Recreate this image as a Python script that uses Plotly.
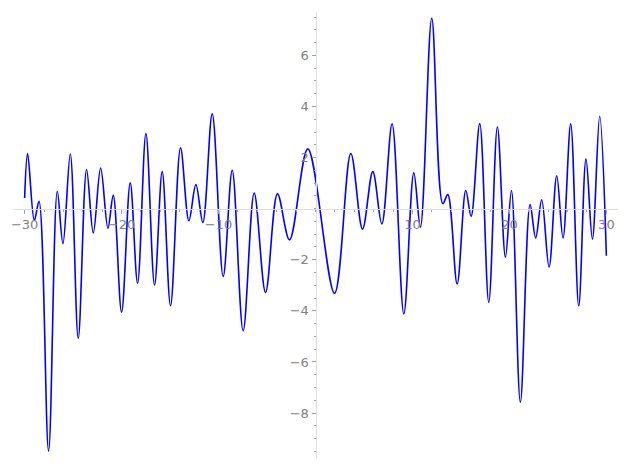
import plotly.graph_objects as go

# Curve points (local extrema and end points)
x_pts = [-30.0, -29.69, -29.0, -28.52, -27.53, -26.63, -26.05, -25.29, -24.47, -23.61,
         -22.92, -22.16, -21.41, -20.86, -20.0, -19.11, -18.35, -17.49, -16.6, -15.81,
         -14.95, -13.92, -13.06, -12.34, -11.62, -10.65, -9.52, -8.59, -7.46, -6.32,
         -5.15, -3.92, -2.68, -0.79, 1.96, 3.64, 4.85, 5.91, 6.84, 7.90,
         9.11, 10.14, 10.82, 11.99, 13.13, 13.64, 14.61, 15.50, 16.05, 16.94,
         17.87, 18.76, 19.59, 20.21, 21.13, 22.13, 22.71, 23.33, 24.09, 24.88,
         25.53, 26.32, 27.15, 27.90, 28.56, 29.31, 30.0]
y_pts = [0.42, 2.16, -0.46, 0.29, -9.49, 0.68, -1.37, 2.14, -5.07, 1.53,
         -0.95, 1.59, -0.76, 0.52, -4.05, 1.01, -2.92, 2.94, -2.99, 1.45,
         -3.80, 2.38, -0.47, 0.94, -0.54, 3.71, -2.65, 1.50, -4.78, 0.61,
         -3.28, 0.58, -1.22, 2.34, -3.31, 2.16, -0.80, 1.45, -0.60, 3.32,
         -4.12, 1.40, -0.72, 7.45, 0.20, 0.55, -2.95, 0.71, -0.30, 3.33,
         -3.67, 3.20, -1.90, 0.71, -7.58, 0.16, -1.15, 0.35, -2.29, 1.29,
         -1.15, 3.32, -3.80, 1.95, -1.19, 3.62, -1.84]

x_ticks = [-30, -20, -10, 10, 20, 30]
x_tick_text = ["\u221230", "\u221220", "\u221210", "10", "20", "30"]
y_ticks = [-8, -6, -4, -2, 2, 4, 6]
y_tick_text = ["\u22128", "\u22126", "\u22124", "\u22122", "2", "4", "6"]

x_range = [-31.2, 31.2]
y_range = [-9.8, 7.7]

fig = go.Figure()
fig.add_trace(go.Scatter(
    x=x_pts, y=y_pts, mode="lines",
    line=dict(color="#0000ff", width=1.6, shape="spline", smoothing=1.0),
    hoverinfo="skip", showlegend=False,
))

axis_common = dict(
    showgrid=False, zeroline=False, showline=True, linecolor="#dedede", linewidth=1,
    ticks="outside", tickcolor="#a0a0a0", ticklen=4, tickwidth=1,
    tickfont=dict(family="DejaVu Sans", size=13, color="#808080"),
    anchor="free", fixedrange=True, automargin=False,
)

fig.update_layout(
    width=619, height=462,
    margin=dict(l=5, r=9, t=4, b=11),
    paper_bgcolor="white", plot_bgcolor="white",
    xaxis=dict(range=x_range, tickmode="array", tickvals=x_ticks, ticktext=x_tick_text,
               position=(0 - y_range[0]) / (y_range[1] - y_range[0]),
               minor=dict(dtick=2, tick0=0, ticks="outside", ticklen=2, tickcolor="#a0a0a0"),
               **axis_common),
    yaxis=dict(range=y_range, tickmode="array", tickvals=y_ticks, ticktext=y_tick_text,
               position=(0 - x_range[0]) / (x_range[1] - x_range[0]),
               minor=dict(dtick=0.5, tick0=0, ticks="outside", ticklen=2, tickcolor="#a0a0a0"),
               **axis_common),
)

fig.write_html("out.html")
